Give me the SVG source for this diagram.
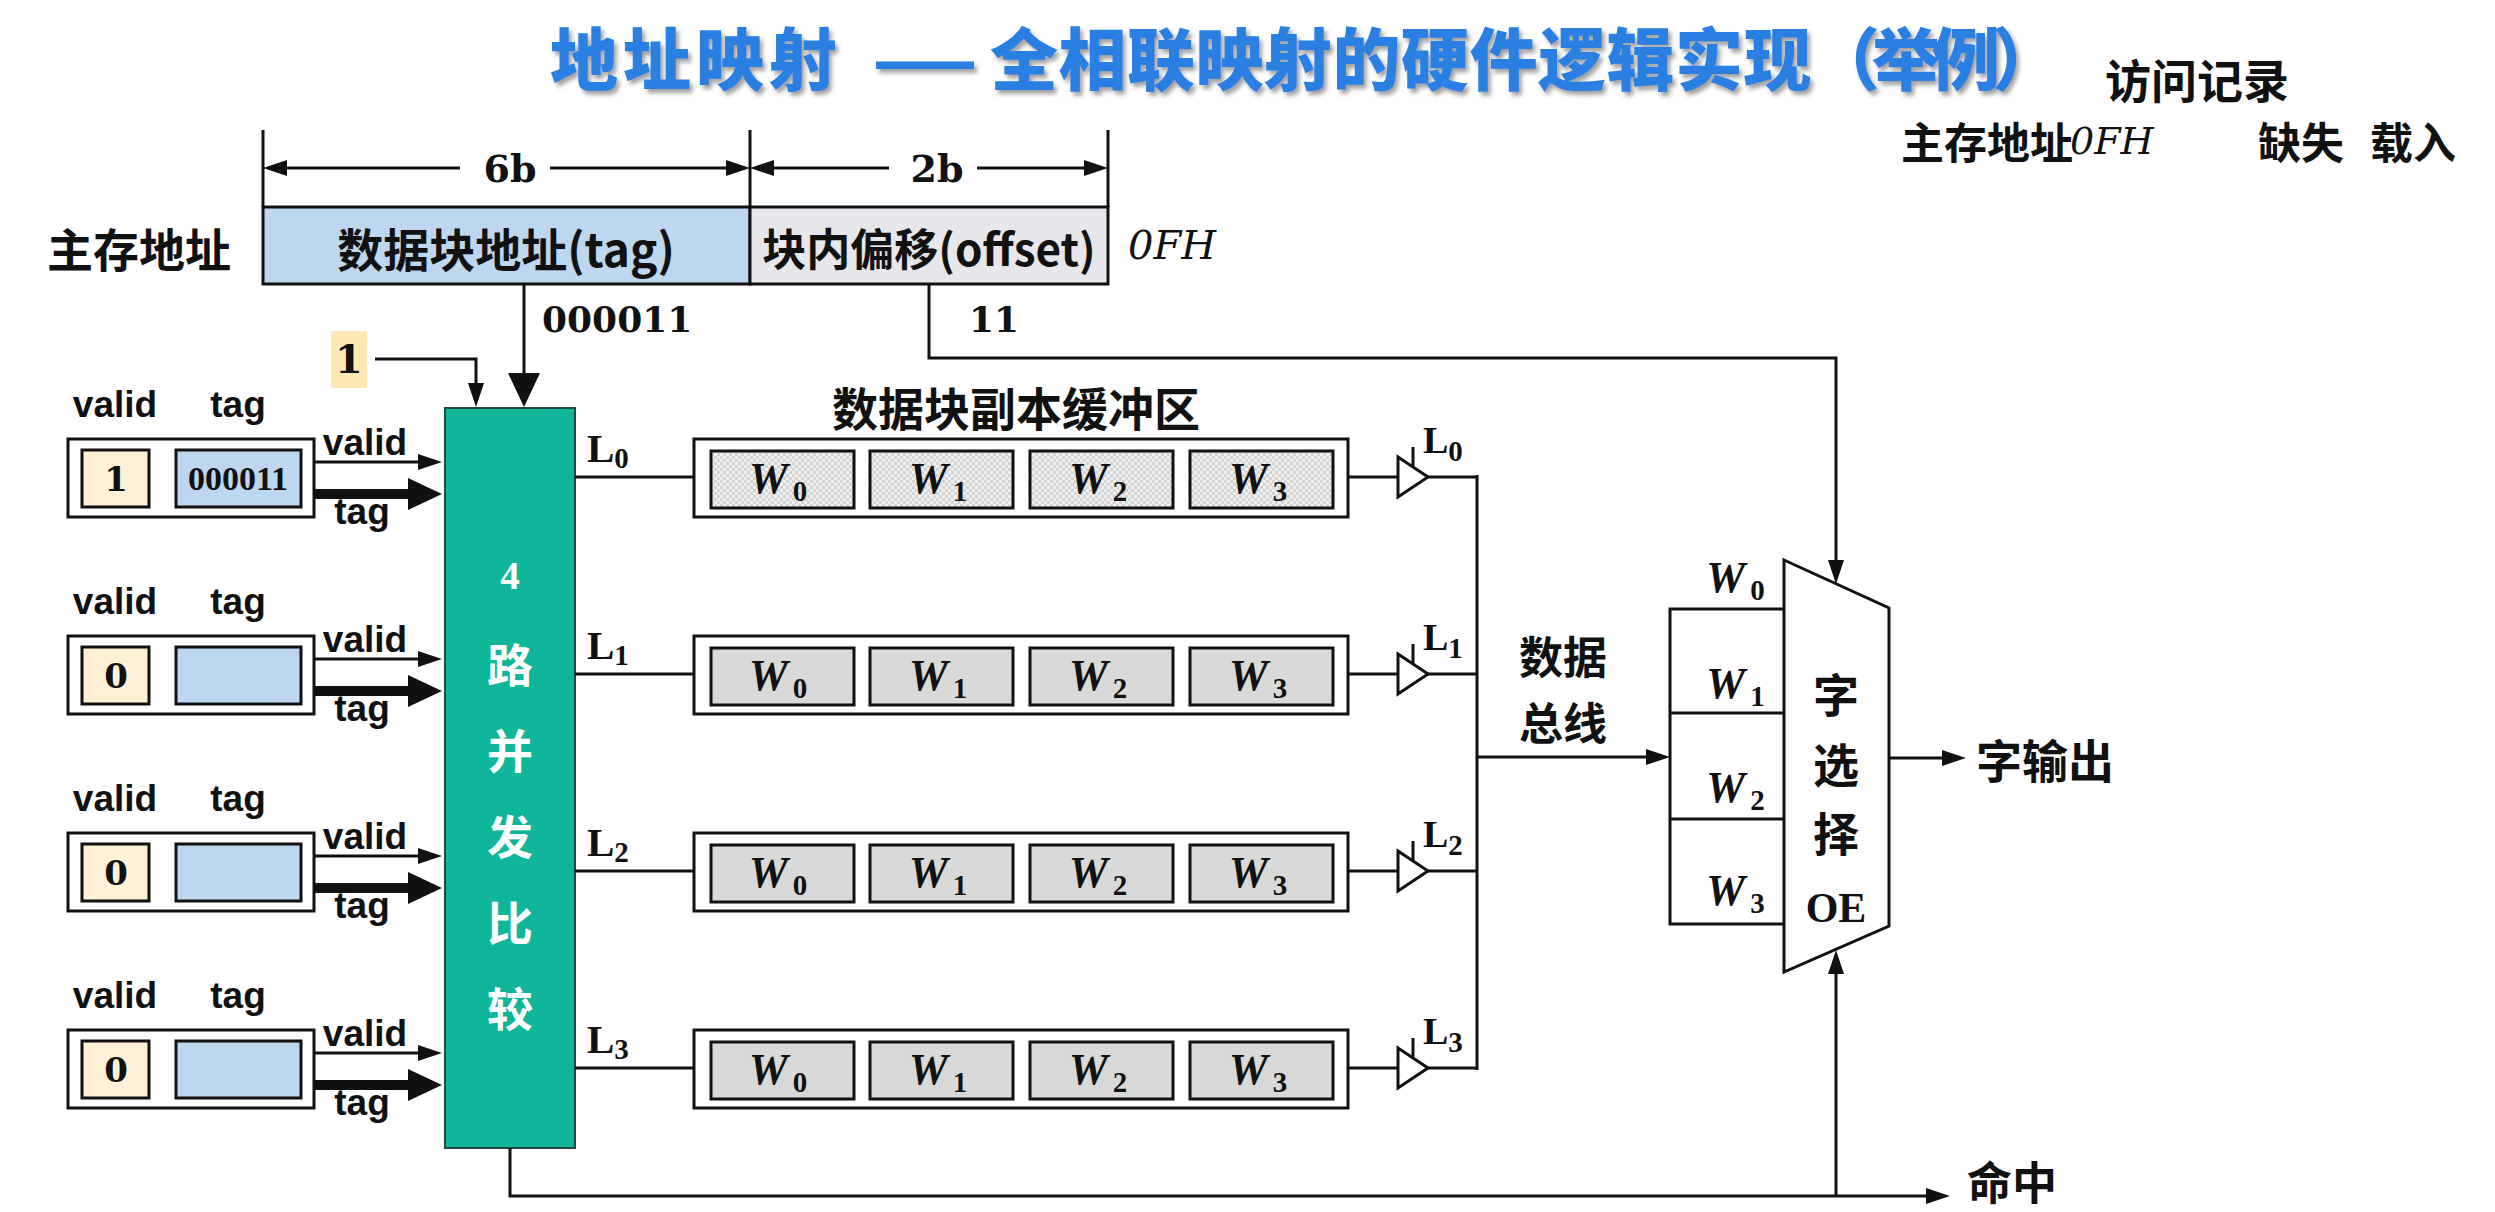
<svg xmlns="http://www.w3.org/2000/svg" width="2495" height="1212" viewBox="0 0 2495 1212">
<defs>
<style>
.cjk{font-family:"Noto Sans CJK SC","Noto Sans",sans-serif;font-weight:700;fill:#111;dominant-baseline:central}
.title{font-family:"Noto Sans CJK SC","Noto Sans",sans-serif;font-weight:900;font-size:68px;fill:#2a7fe2;dominant-baseline:central}
.lbl{font-family:"Liberation Sans Narrow","Liberation Sans",Arial,sans-serif;font-stretch:condensed;font-weight:700;font-size:37px;fill:#111;text-anchor:middle}
.num{font-family:"DejaVu Serif",serif;font-weight:700;fill:#111}
.ser{font-family:"Liberation Serif",serif;font-weight:700;fill:#111}
.ital{font-family:"DejaVu Serif",serif;font-style:italic;fill:#111}
.w{font-family:"Liberation Serif",serif;font-style:italic;font-weight:700;font-size:44px;fill:#111}
.sub{font-style:normal;font-weight:700;font-size:29px}
.ln{stroke:#111;stroke-width:3;fill:none}
.thk{stroke:#111;stroke-width:10;fill:none}
.box{fill:#fff;stroke:#111;stroke-width:3}
.vbox{fill:#fff1d6;stroke:#111;stroke-width:3}
.tbox{fill:#bdd7ee;stroke:#111;stroke-width:3}
.cell{fill:#d9d9d9;stroke:#111;stroke-width:3}
.cellp{fill:url(#chk);stroke:#111;stroke-width:3}
.tri{fill:#fff;stroke:#111;stroke-width:3}
.white{fill:#fff}
</style>
<filter id="sh" x="-5%" y="-30%" width="110%" height="170%">
<feDropShadow dx="3" dy="4" stdDeviation="2" flood-color="#555" flood-opacity="0.55"/>
</filter>
<pattern id="chk" width="6" height="6" patternUnits="userSpaceOnUse">
<rect width="6" height="6" fill="#f0f0f0"/>
<rect width="3" height="3" fill="#d4d4d4"/>
<rect x="3" y="3" width="3" height="3" fill="#d4d4d4"/>
</pattern>
<marker id="a" markerUnits="userSpaceOnUse" markerWidth="24" markerHeight="16" refX="1" refY="8" orient="auto-start-reverse" viewBox="0 0 24 16">
<path d="M0,0 L24,8 L0,16 Z" fill="#111"/>
</marker>
<marker id="b" markerUnits="userSpaceOnUse" markerWidth="34" markerHeight="32" refX="1" refY="16" orient="auto" viewBox="0 0 34 32">
<path d="M0,0 L34,16 L0,32 Z" fill="#111"/>
</marker>
</defs>
<rect width="2495" height="1212" fill="#fff"/>

<g id="title" filter="url(#sh)">
<text class="title" x="550" y="55" letter-spacing="5">地址映射</text>
<text class="title" x="873" y="55" textLength="104" lengthAdjust="spacingAndGlyphs">——</text>
<text class="title" x="990" y="55" letter-spacing="0.5">全相联映射的硬件逻辑实现</text>
<text class="title" x="1812" y="55" font-size="60" letter-spacing="-8">（举例）</text>
</g>

<g id="record">
<text class="cjk" x="2197" y="78" font-size="46" text-anchor="middle">访问记录</text>
<text class="cjk" x="1901" y="140" font-size="43">主存地址</text>
<text class="ital" x="2070" y="154" font-size="38">0FH</text>
<text class="cjk" x="2258" y="140" font-size="43">缺失</text>
<text class="cjk" x="2370" y="140" font-size="43">载入</text>
</g>

<g id="address-format">
<text class="cjk" x="47" y="247" font-size="46">主存地址</text>
<line class="ln" x1="263" y1="130" x2="263" y2="207"/>
<line class="ln" x1="750" y1="130" x2="750" y2="207"/>
<line class="ln" x1="1108" y1="130" x2="1108" y2="207"/>
<rect x="263" y="207" width="487" height="77" fill="#bdd7ee" stroke="#111" stroke-width="3"/>
<rect x="750" y="207" width="358" height="77" fill="#e6e6eb" stroke="#111" stroke-width="3"/>
<text class="cjk" x="506" y="247" font-size="46" text-anchor="middle">数据块地址(tag)</text>
<text class="cjk" x="929" y="247" font-size="44" text-anchor="middle">块内偏移(offset)</text>
<text class="ital" x="1128" y="259" font-size="40">0FH</text>
<text class="num" x="510" y="182" font-size="38" text-anchor="middle">6b</text>
<text class="num" x="937" y="182" font-size="38" text-anchor="middle">2b</text>
<text class="num" x="542" y="332" font-size="36">000011</text>
<text class="num" x="969" y="332" font-size="36">11</text>
</g>

<g id="valid-input">
<rect x="331" y="331" width="36" height="57" fill="#fde8b6"/>
<text class="num" x="349" y="373" font-size="40" text-anchor="middle">1</text>
</g>

<g id="entry0">
<text class="lbl" x="115" y="417">valid</text><text class="lbl" x="238" y="417">tag</text>
<rect class="box" x="68" y="439" width="246" height="78"/>
<rect class="vbox" x="82" y="450" width="67" height="57"/>
<rect class="tbox" x="176" y="450" width="125" height="57"/>
<text class="num" x="116" y="491" font-size="34" text-anchor="middle">1</text>
<text class="ser" x="238" y="490" font-size="34" text-anchor="middle">000011</text>
<text class="lbl" x="365" y="455">valid</text><text class="lbl" x="362" y="524">tag</text>
</g>
<g id="entry1">
<text class="lbl" x="115" y="614">valid</text><text class="lbl" x="238" y="614">tag</text>
<rect class="box" x="68" y="636" width="246" height="78"/>
<rect class="vbox" x="82" y="647" width="67" height="57"/>
<rect class="tbox" x="176" y="647" width="125" height="57"/>
<text class="num" x="116" y="688" font-size="34" text-anchor="middle">0</text>
<text class="lbl" x="365" y="652">valid</text><text class="lbl" x="362" y="721">tag</text>
</g>
<g id="entry2">
<text class="lbl" x="115" y="811">valid</text><text class="lbl" x="238" y="811">tag</text>
<rect class="box" x="68" y="833" width="246" height="78"/>
<rect class="vbox" x="82" y="844" width="67" height="57"/>
<rect class="tbox" x="176" y="844" width="125" height="57"/>
<text class="num" x="116" y="885" font-size="34" text-anchor="middle">0</text>
<text class="lbl" x="365" y="849">valid</text><text class="lbl" x="362" y="918">tag</text>
</g>
<g id="entry3">
<text class="lbl" x="115" y="1008">valid</text><text class="lbl" x="238" y="1008">tag</text>
<rect class="box" x="68" y="1030" width="246" height="78"/>
<rect class="vbox" x="82" y="1041" width="67" height="57"/>
<rect class="tbox" x="176" y="1041" width="125" height="57"/>
<text class="num" x="116" y="1082" font-size="34" text-anchor="middle">0</text>
<text class="lbl" x="365" y="1046">valid</text><text class="lbl" x="362" y="1115">tag</text>
</g>

<g id="comparator">
<rect x="445" y="408" width="130" height="740" fill="#10b699" stroke="#1d4a42" stroke-width="2"/>
<text class="ser white" x="510" y="589" font-size="39" text-anchor="middle">4</text>
<text class="cjk white" x="510" y="662" font-size="46" text-anchor="middle">路</text>
<text class="cjk white" x="510" y="748" font-size="46" text-anchor="middle">并</text>
<text class="cjk white" x="510" y="834" font-size="46" text-anchor="middle">发</text>
<text class="cjk white" x="510" y="920" font-size="46" text-anchor="middle">比</text>
<text class="cjk white" x="510" y="1006" font-size="46" text-anchor="middle">较</text>
<text class="ser" x="587" y="462" font-size="41">L<tspan class="sub" dy="6">0</tspan></text>
<text class="ser" x="587" y="659" font-size="41">L<tspan class="sub" dy="6">1</tspan></text>
<text class="ser" x="587" y="856" font-size="41">L<tspan class="sub" dy="6">2</tspan></text>
<text class="ser" x="587" y="1053" font-size="41">L<tspan class="sub" dy="6">3</tspan></text>
</g>

<text class="cjk" x="1016" y="406" font-size="46" text-anchor="middle">数据块副本缓冲区</text>

<g id="buffer0">
<rect class="box" x="694" y="439" width="654" height="78"/>
<rect class="cellp" x="711" y="451" width="143" height="57"/>
<rect class="cellp" x="870" y="451" width="143" height="57"/>
<rect class="cellp" x="1030" y="451" width="143" height="57"/>
<rect class="cellp" x="1190" y="451" width="143" height="57"/>
<text class="w" x="778" y="493" text-anchor="middle">W<tspan class="sub" dx="5" dy="8">0</tspan></text>
<text class="w" x="938" y="493" text-anchor="middle">W<tspan class="sub" dx="5" dy="8">1</tspan></text>
<text class="w" x="1098" y="493" text-anchor="middle">W<tspan class="sub" dx="5" dy="8">2</tspan></text>
<text class="w" x="1258" y="493" text-anchor="middle">W<tspan class="sub" dx="5" dy="8">3</tspan></text>
</g>
<g id="buffer1">
<rect class="box" x="694" y="636" width="654" height="78"/>
<rect class="cell" x="711" y="648" width="143" height="57"/>
<rect class="cell" x="870" y="648" width="143" height="57"/>
<rect class="cell" x="1030" y="648" width="143" height="57"/>
<rect class="cell" x="1190" y="648" width="143" height="57"/>
<text class="w" x="778" y="690" text-anchor="middle">W<tspan class="sub" dx="5" dy="8">0</tspan></text>
<text class="w" x="938" y="690" text-anchor="middle">W<tspan class="sub" dx="5" dy="8">1</tspan></text>
<text class="w" x="1098" y="690" text-anchor="middle">W<tspan class="sub" dx="5" dy="8">2</tspan></text>
<text class="w" x="1258" y="690" text-anchor="middle">W<tspan class="sub" dx="5" dy="8">3</tspan></text>
</g>
<g id="buffer2">
<rect class="box" x="694" y="833" width="654" height="78"/>
<rect class="cell" x="711" y="845" width="143" height="57"/>
<rect class="cell" x="870" y="845" width="143" height="57"/>
<rect class="cell" x="1030" y="845" width="143" height="57"/>
<rect class="cell" x="1190" y="845" width="143" height="57"/>
<text class="w" x="778" y="887" text-anchor="middle">W<tspan class="sub" dx="5" dy="8">0</tspan></text>
<text class="w" x="938" y="887" text-anchor="middle">W<tspan class="sub" dx="5" dy="8">1</tspan></text>
<text class="w" x="1098" y="887" text-anchor="middle">W<tspan class="sub" dx="5" dy="8">2</tspan></text>
<text class="w" x="1258" y="887" text-anchor="middle">W<tspan class="sub" dx="5" dy="8">3</tspan></text>
</g>
<g id="buffer3">
<rect class="box" x="694" y="1030" width="654" height="78"/>
<rect class="cell" x="711" y="1042" width="143" height="57"/>
<rect class="cell" x="870" y="1042" width="143" height="57"/>
<rect class="cell" x="1030" y="1042" width="143" height="57"/>
<rect class="cell" x="1190" y="1042" width="143" height="57"/>
<text class="w" x="778" y="1084" text-anchor="middle">W<tspan class="sub" dx="5" dy="8">0</tspan></text>
<text class="w" x="938" y="1084" text-anchor="middle">W<tspan class="sub" dx="5" dy="8">1</tspan></text>
<text class="w" x="1098" y="1084" text-anchor="middle">W<tspan class="sub" dx="5" dy="8">2</tspan></text>
<text class="w" x="1258" y="1084" text-anchor="middle">W<tspan class="sub" dx="5" dy="8">3</tspan></text>
</g>

<g id="tristate0">
<polygon class="tri" points="1398,457 1428,477 1398,497"/>
<line class="ln" x1="1413" y1="447" x2="1413" y2="466"/>
<text class="ser" x="1423" y="453" font-size="38">L<tspan class="sub" dy="8">0</tspan></text>
</g>
<g id="tristate1">
<polygon class="tri" points="1398,654 1428,674 1398,694"/>
<line class="ln" x1="1413" y1="644" x2="1413" y2="663"/>
<text class="ser" x="1423" y="650" font-size="38">L<tspan class="sub" dy="8">1</tspan></text>
</g>
<g id="tristate2">
<polygon class="tri" points="1398,851 1428,871 1398,891"/>
<line class="ln" x1="1413" y1="841" x2="1413" y2="860"/>
<text class="ser" x="1423" y="847" font-size="38">L<tspan class="sub" dy="8">2</tspan></text>
</g>
<g id="tristate3">
<polygon class="tri" points="1398,1048 1428,1068 1398,1088"/>
<line class="ln" x1="1413" y1="1038" x2="1413" y2="1057"/>
<text class="ser" x="1423" y="1044" font-size="38">L<tspan class="sub" dy="8">3</tspan></text>
</g>

<g id="bus-label">
<text class="cjk" x="1563" y="655" font-size="44" text-anchor="middle">数据</text>
<text class="cjk" x="1563" y="721" font-size="44" text-anchor="middle">总线</text>
</g>

<g id="word-register">
<path class="ln" d="M1784,609 H1670 V924 H1784 M1670,713 H1784 M1670,819 H1784"/>
<text class="w" x="1706" y="592">W<tspan class="sub" dx="5" dy="8">0</tspan></text>
<text class="w" x="1706" y="698">W<tspan class="sub" dx="5" dy="8">1</tspan></text>
<text class="w" x="1706" y="802">W<tspan class="sub" dx="5" dy="8">2</tspan></text>
<text class="w" x="1706" y="905">W<tspan class="sub" dx="5" dy="8">3</tspan></text>
</g>

<g id="word-select">
<polygon class="tri" points="1784,560 1889,608 1889,926 1784,972"/>
<text class="cjk" x="1836" y="692" font-size="46" text-anchor="middle">字</text>
<text class="cjk" x="1836" y="762" font-size="46" text-anchor="middle">选</text>
<text class="cjk" x="1836" y="831" font-size="46" text-anchor="middle">择</text>
<text class="ser" x="1836" y="922" font-size="42" text-anchor="middle">OE</text>
</g>

<g id="outputs">
<text class="cjk" x="1976" y="758" font-size="46">字输出</text>
<text class="cjk" x="1967" y="1180" font-size="45">命中</text>
</g>

<g id="connectors">
<path class="ln" d="M286,168 H460" marker-start="url(#a)"/>
<path class="ln" d="M550,168 H727" marker-end="url(#a)"/>
<path class="ln" d="M773,168 H889" marker-start="url(#a)"/>
<path class="ln" d="M977,168 H1085" marker-end="url(#a)"/>
<path class="ln" d="M524,284 V374" stroke-width="9" marker-end="url(#b)"/>
<path class="ln" d="M375,359 H476 V384" stroke-width="2.5" marker-end="url(#a)"/>
<path class="ln" d="M929,284 V358 H1836 V561" marker-end="url(#a)"/>
<path class="ln" d="M314,462 H419" marker-end="url(#a)"/>
<path class="thk" d="M314,494 H409" marker-end="url(#b)"/>
<path class="ln" d="M314,659 H419" marker-end="url(#a)"/>
<path class="thk" d="M314,691 H409" marker-end="url(#b)"/>
<path class="ln" d="M314,856 H419" marker-end="url(#a)"/>
<path class="thk" d="M314,888 H409" marker-end="url(#b)"/>
<path class="ln" d="M314,1053 H419" marker-end="url(#a)"/>
<path class="thk" d="M314,1085 H409" marker-end="url(#b)"/>
<path class="ln" d="M575,477 H694 M575,674 H694 M575,871 H694 M575,1068 H694"/>
<path class="ln" d="M1348,477 H1398 M1348,674 H1398 M1348,871 H1398 M1348,1068 H1398"/>
<path class="ln" stroke-width="4" d="M1428,477 H1477 M1428,674 H1477 M1428,871 H1477 M1428,1068 H1477 M1477,475 V1070"/>
<path class="ln" d="M1477,757 H1647" marker-end="url(#a)"/>
<path class="ln" d="M1889,758 H1943" marker-end="url(#a)"/>
<path class="ln" d="M510,1148 V1196 H1927" marker-end="url(#a)"/>
<path class="ln" d="M1836,1196 V973" marker-end="url(#a)"/>
</g>
</svg>
